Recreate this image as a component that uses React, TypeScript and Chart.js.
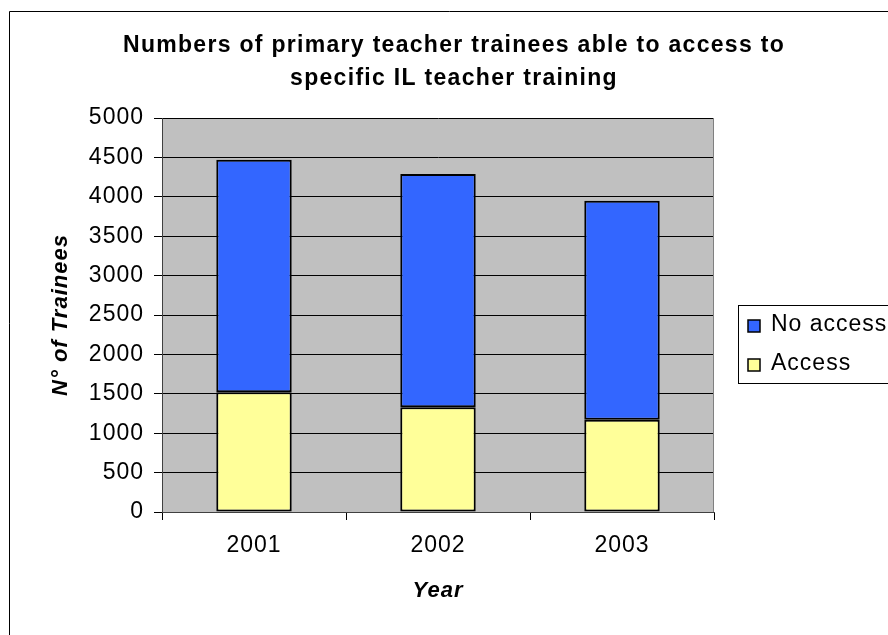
import React, { useEffect, useRef } from "react";
import { Chart, registerables } from "chart.js";

Chart.register(...registerables);

const years = ["2001", "2002", "2003"];
const accessValues = [1520, 1330, 1170];
const noAccessValues = [2950, 2960, 2780];
const seriesNames = ["Access", "No access"];
const titleLines = [
  "Numbers of primary teacher trainees able to access to",
  "specific IL teacher training",
];
const yAxisTitle = "N° of Trainees";
const xAxisTitle = "Year";
const yMax = 5000;
const yStep = 500;

const FAMILY = "'Liberation Sans', Arial, sans-serif";
const ACCESS_COLOR = "#FFFF99";
const NO_ACCESS_COLOR = "#3366FF";

export default function App() {
  const ref = useRef<HTMLCanvasElement | null>(null);

  useEffect(() => {
    if (!ref.current) return;
    const decor = {
      id: "decor",
      beforeUpdate(chart: any) {
        chart.ctx.letterSpacing = "1px";
      },
      beforeDraw(chart: any) {
        const { ctx, chartArea: a } = chart;
        ctx.letterSpacing = "1px";
        ctx.save();
        ctx.fillStyle = "#ffffff";
        ctx.fillRect(0, 0, chart.width, chart.height);
        ctx.fillStyle = "#c0c0c0";
        ctx.fillRect(a.left, a.top, a.right - a.left, a.bottom - a.top);
        ctx.restore();
      },
      afterDraw(chart: any) {
        const { ctx, chartArea: a } = chart;
        ctx.save();
        // outer frame
        ctx.strokeStyle = "#000";
        ctx.lineWidth = 1;
        ctx.beginPath();
        ctx.moveTo(9.5, 700);
        ctx.lineTo(9.5, 11.5);
        ctx.lineTo(900, 11.5);
        ctx.stroke();
        // plot right border
        ctx.strokeStyle = "#808080";
        ctx.beginPath();
        ctx.moveTo(Math.round(a.right) - 0.5, a.top);
        ctx.lineTo(Math.round(a.right) - 0.5, a.bottom);
        ctx.stroke();
        // title
        ctx.fillStyle = "#000";
        ctx.letterSpacing = "1.3px";
        ctx.font = `bold 23px ${FAMILY}`;
        ctx.textAlign = "center";
        ctx.textBaseline = "middle";
        ctx.fillText(titleLines[0], 454, 46);
        ctx.fillText(titleLines[1], 454, 79);
        // legend
        ctx.letterSpacing = "1px";
        ctx.fillStyle = "#fff";
        ctx.fillRect(738.5, 305.5, 300, 78);
        ctx.strokeStyle = "#000";
        ctx.lineWidth = 1;
        ctx.strokeRect(738.5, 305.5, 300, 78);
        const items = [
          { name: seriesNames[1], color: NO_ACCESS_COLOR, y: 325 },
          { name: seriesNames[0], color: ACCESS_COLOR, y: 364 },
        ];
        ctx.font = `23px ${FAMILY}`;
        ctx.textAlign = "left";
        for (const it of items) {
          ctx.fillStyle = it.color;
          ctx.fillRect(748, it.y - 5, 12, 12);
          ctx.strokeStyle = "#000";
          ctx.lineWidth = 1.5;
          ctx.strokeRect(748, it.y - 5, 12, 12);
          ctx.fillStyle = "#000";
          ctx.fillText(it.name, 771, it.y);
        }
        ctx.restore();
      },
    };

    const chart = new Chart(ref.current, {
      type: "bar",
      data: {
        labels: years,
        datasets: [
          {
            label: seriesNames[0],
            data: accessValues,
            backgroundColor: ACCESS_COLOR,
            borderColor: "#000",
            borderWidth: 2,
            borderSkipped: false,
          },
          {
            label: seriesNames[1],
            data: noAccessValues,
            backgroundColor: NO_ACCESS_COLOR,
            borderColor: "#000",
            borderWidth: 2,
            borderSkipped: false,
          },
        ],
      },
      options: {
        animation: false,
        responsive: false,
        devicePixelRatio: 1,
        layout: { padding: { left: 0, top: 118, right: 174, bottom: 0 } },
        datasets: { bar: { barPercentage: 0.41, categoryPercentage: 1 } } as any,
        plugins: {
          legend: { display: false },
          title: { display: false },
          tooltip: { enabled: false },
        },
        scales: {
          x: {
            stacked: true,
            offset: true,
            grid: {
              display: true,
              drawOnChartArea: false,
              drawTicks: true,
              tickLength: 8,
              color: "#000",
              offset: true,
            },
            border: { display: true, color: "#404040", width: 1 },
            ticks: { font: { family: FAMILY, size: 23 }, color: "#000", padding: 12 },
            title: {
              display: true,
              text: xAxisTitle,
              color: "#000",
              font: { family: FAMILY, size: 22, weight: "bold", style: "italic" },
              padding: { top: 0, bottom: 31 },
            },
            afterFit(s: any) {
              s.height = 123;
            },
          },
          y: {
            stacked: true,
            min: 0,
            max: yMax,
            grid: { color: "#000", tickLength: 8, drawTicks: true },
            border: { display: true, color: "#404040", width: 1 },
            ticks: {
              stepSize: yStep,
              font: { family: FAMILY, size: 23 },
              color: "#000",
              padding: 10,
              callback: (v: any) => String(v),
            },
            title: {
              display: true,
              text: yAxisTitle,
              color: "#000",
              font: { family: FAMILY, size: 22, weight: "bold", style: "italic" },
              padding: { top: 48, bottom: 0 },
            },
            afterFit(s: any) {
              s.width = 162;
            },
          },
        },
      } as any,
      plugins: [decor],
    });
    return () => chart.destroy();
  }, []);

  return (
    <div style={{ position: "absolute", left: 0, top: 0, width: 888, height: 635 }}>
      <canvas ref={ref} width={888} height={635} style={{ width: 888, height: 635, display: "block" }} />
    </div>
  );
}
